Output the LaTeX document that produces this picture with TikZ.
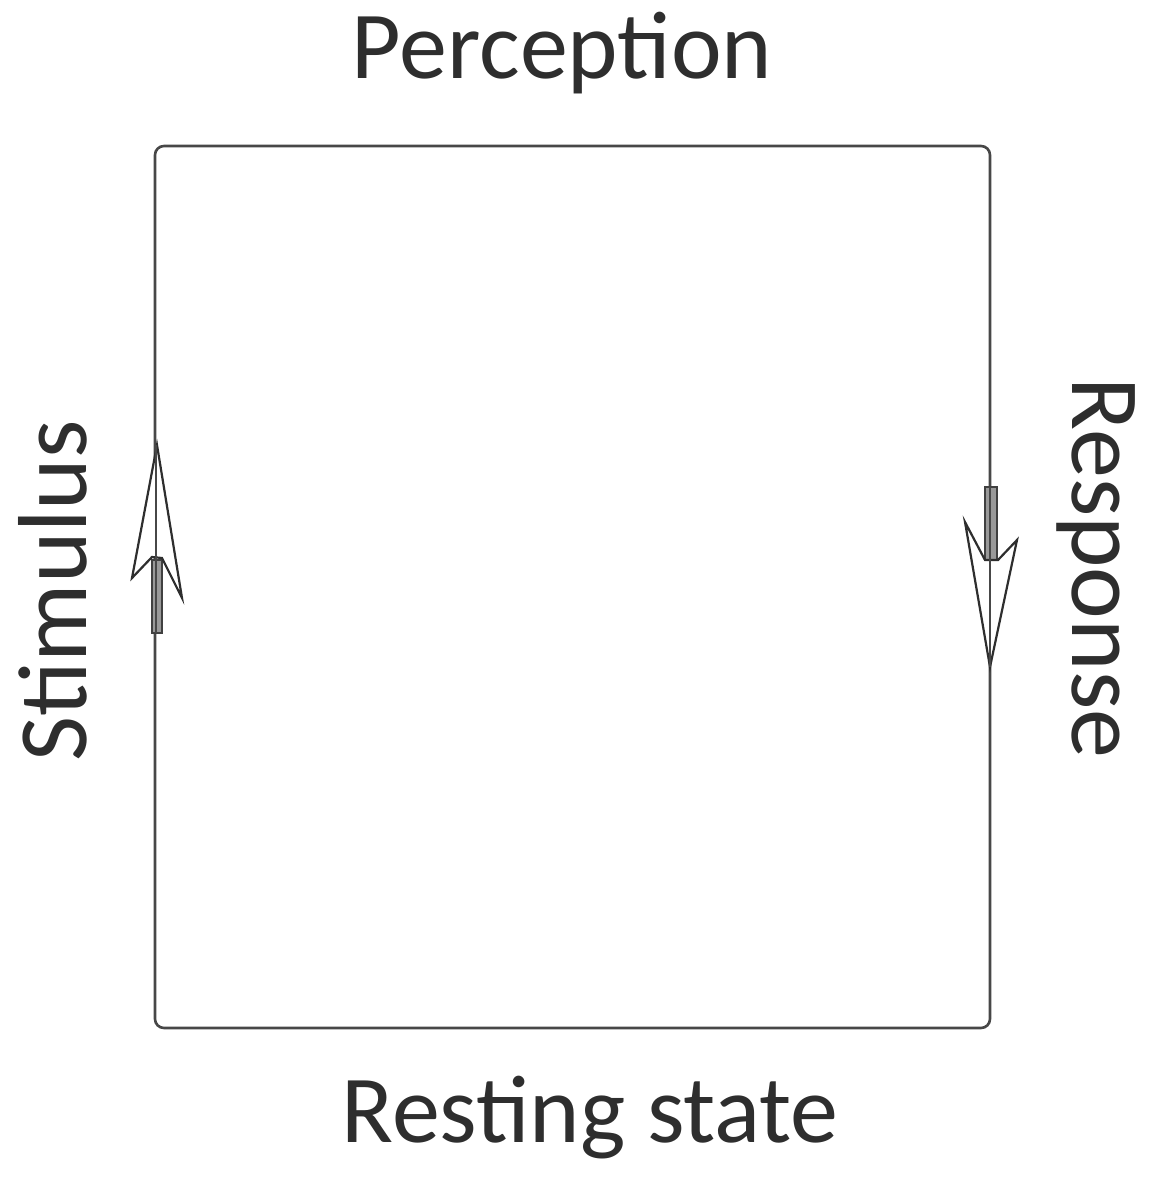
\documentclass[tikz,border=0pt]{standalone}
\usepackage{fontspec}
\setmainfont{Carlito}
\begin{document}
\begin{tikzpicture}[x=1pt,y=-1pt,
  lab/.style={font=\fontsize{96}{104}\selectfont, text=black!82, inner sep=0pt},
  vlab/.style={lab, font=\fontsize{98}{106}\selectfont},
  frame/.style={draw=black!72, line width=2.6pt, rounded corners=9pt},
  shaft/.style={draw=black!75, fill=black!40, line width=1.8pt},
  head/.style={draw=black!82, fill=white, line width=2.2pt, line join=miter},
  mid/.style={draw=black!72, line width=2.4pt}]
\useasboundingbox (0,0) rectangle (1152,1179);
\coordinate (tl) at (155,146);
\coordinate (br) at (990,1028);
\draw[frame] (tl) rectangle (br);
% left arrow (up)
\draw[shaft] (152,633) rectangle (162,560);
\draw[head] (157,445) -- (182,598) -- (162,558) -- (152,557) -- (132,578) -- cycle;
\coordinate (ltip) at (156,445);
\coordinate (lbase) at (156,633);
\draw[mid] (ltip) -- (lbase);
% right arrow (down)
\draw[shaft] (985,487) rectangle (997,560);
\draw[head] (990,667) -- (965,522) -- (985,560) -- (998,560) -- (1017,540) -- cycle;
\coordinate (rtip) at (990,667);
\coordinate (rbase) at (990,487);
\draw[mid] (rtip) -- (rbase);
\node[lab, anchor=base] (perc) at (562,78) {Perception};
\node[lab, anchor=base] (rest) at (590,1142) {Resting state};
\node[vlab, anchor=base, rotate=90] (stim) at (86,591) {Stimulus};
\node[vlab, anchor=base, rotate=-90] (resp) at (1072,568) {Response};
\end{tikzpicture}
\end{document}
